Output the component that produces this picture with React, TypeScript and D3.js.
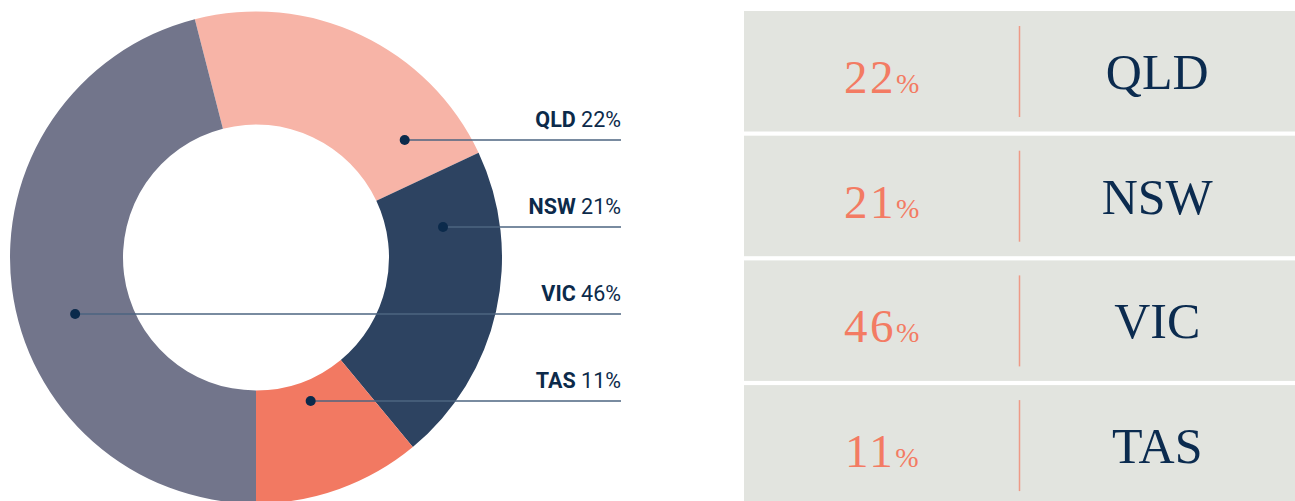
import React, { useEffect, useRef } from "react";
import * as d3 from "d3";

const states = ["QLD", "NSW", "VIC", "TAS"];
const shares = [22, 21, 46, 11];
const sliceColors = ["#f7b4a7", "#2d4361", "#72758b", "#f27962"];
// clockwise drawing order around the ring
const ringOrder = ["QLD", "NSW", "TAS", "VIC"];

const W = 1295;
const H = 501;

export default function App() {
  const ref = useRef<SVGSVGElement | null>(null);

  useEffect(() => {
    const svg = d3.select(ref.current);
    svg.selectAll("*").remove();

    const cx = 256, cy = 257.5, rOut = 246, rIn = 133, rMid = (rOut + rIn) / 2;
    const data = ringOrder.map((s) => {
      const i = states.indexOf(s);
      return { state: s, value: shares[i], color: sliceColors[i] };
    });
    const total = d3.sum(shares);
    const start = -(shares[states.indexOf("QLD")] / total) * 2 * Math.PI * (14.4 / 79.2);
    const pie = d3.pie<any>().sort(null).value((d) => d.value).startAngle(start).endAngle(start + 2 * Math.PI);
    const arcs = pie(data);
    const arc = d3.arc<any>().innerRadius(rIn).outerRadius(rOut);

    const g = svg.append("g").attr("transform", `translate(${cx},${cy})`);
    g.selectAll("path").data(arcs).join("path").attr("d", arc as any).attr("fill", (d: any) => d.data.color);

    // leader lines and labels
    const lineX2 = 621;
    const y0 = 140, dy = 87;
    states.forEach((s, i) => {
      const a = arcs.find((d) => d.data.state === s)!;
      const ly = y0 + i * dy;
      const ry = ly - cy;
      const mid = (a.startAngle + a.endAngle) / 2;
      const side = Math.sin(mid) >= 0 ? 1 : -1;
      let dx = side * Math.sqrt(Math.max(0, rMid * rMid - ry * ry));
      let ang = Math.atan2(dx, -ry);
      if (ang < start) ang += 2 * Math.PI;
      if (ang < a.startAngle || ang > a.endAngle) {
        const r = -ry / Math.cos(mid);
        dx = r * Math.sin(mid) + 3;
      }
      const px = cx + dx;
      svg.append("line").attr("x1", px).attr("x2", lineX2).attr("y1", ly).attr("y2", ly)
        .attr("stroke", "#4d6580").attr("stroke-width", 1.5);
      svg.append("circle").attr("cx", px).attr("cy", ly).attr("r", 5).attr("fill", "#0b2a4b");
      const t = svg.append("text").attr("x", lineX2).attr("y", ly - 13).attr("text-anchor", "end")
        .attr("font-family", "Roboto").attr("font-size", 21.5).attr("fill", "#0c2a4a");
      t.append("tspan").attr("font-weight", 700).text(s);
      t.append("tspan").attr("font-weight", 400).text(" " + shares[i] + "%");
    });

    // table
    const tx = 744, tw = W - tx, rowH = 120.5, gap = 4.2, top = 11;
    const midX = tx + tw / 2;
    states.forEach((s, i) => {
      const ry = top + i * (rowH + gap);
      svg.append("rect").attr("x", tx).attr("y", ry).attr("width", tw).attr("height", rowH).attr("fill", "#e2e4df");
      svg.append("line").attr("x1", midX).attr("x2", midX).attr("y1", ry + 15).attr("y2", ry + 106)
        .attr("stroke", "#ee9a86").attr("stroke-width", 1.5);
      const nt = svg.append("text").attr("x", (tx + midX) / 2).attr("y", ry + 82).attr("text-anchor", "middle")
        .attr("font-family", "Liberation Serif").attr("fill", "#f37b63");
      nt.append("tspan").attr("font-size", 47).attr("letter-spacing", 2.5).text(String(shares[i]));
      nt.append("tspan").attr("font-size", 28).text("%");
      svg.append("text").attr("x", (midX + W) / 2).attr("y", ry + 78).attr("text-anchor", "middle")
        .attr("font-family", "Liberation Serif").attr("font-size", 50).attr("fill", "#0b2b4f").text(s);
    });
  }, []);

  return (
    <svg ref={ref} width={W} height={H} style={{ position: "fixed", left: 0, top: 0, background: "#fff" }} />
  );
}
